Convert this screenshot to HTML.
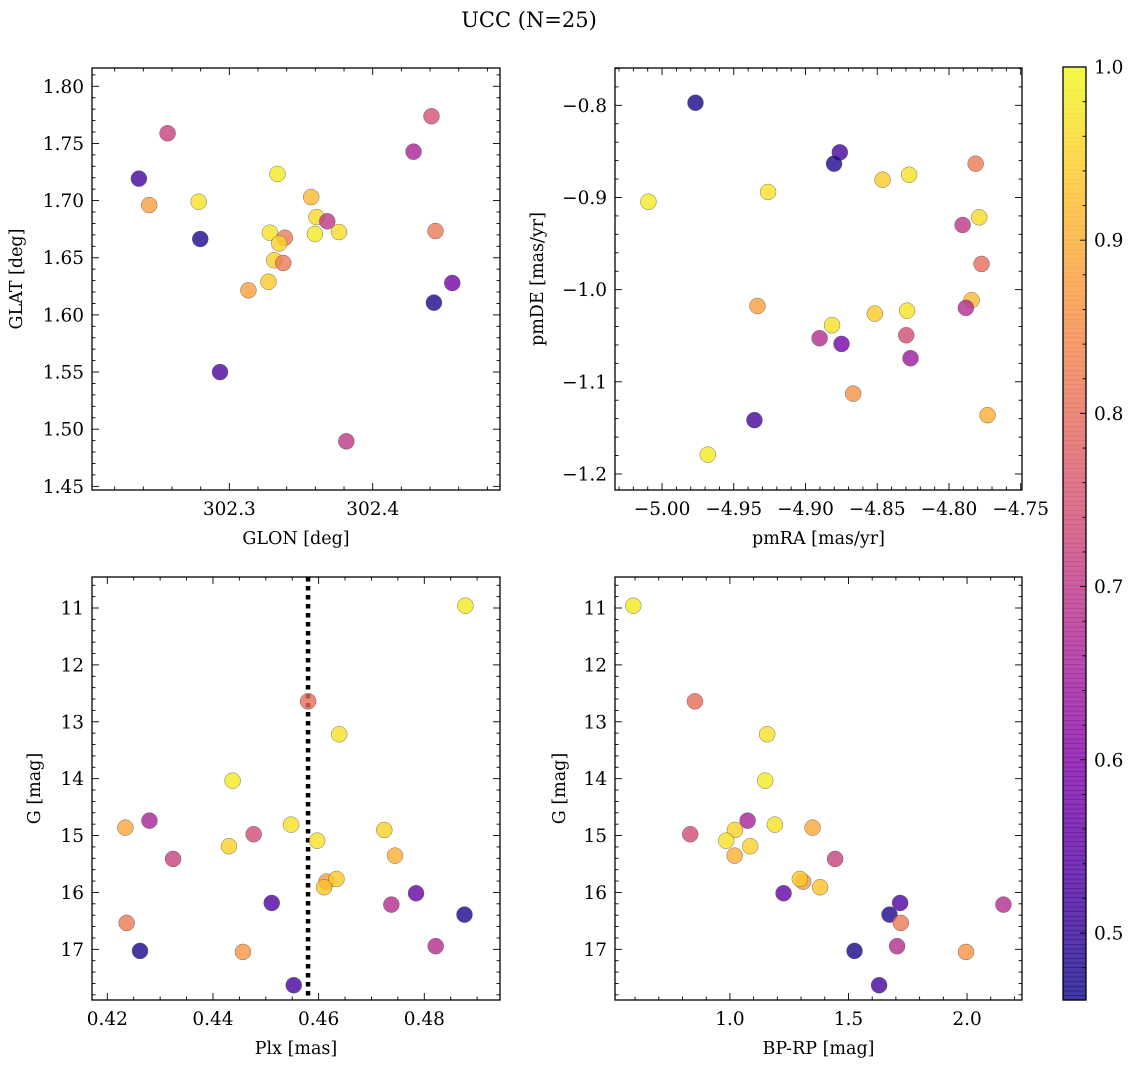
<!DOCTYPE html>
<html><head><meta charset="utf-8">
<style>
html,body{margin:0;padding:0;background:#fff;}
svg{display:block;font-family:"DejaVu Serif","Liberation Serif",serif;}
</style></head>
<body>
<svg id="fig" width="1136" height="1067" viewBox="0 0 1136 1067" xmlns="http://www.w3.org/2000/svg">
<text x="529" y="27" font-size="21" text-anchor="middle" fill="#000">UCC (N=25)</text>
</svg>
<script>
// ---- Panel 1: GLON vs GLAT ----
const glon = [302.2569,302.2369,302.2441,302.2786,302.2797,302.2935,302.3336,302.3571,302.3608,302.3683,302.3283,302.3387,302.3348,302.3597,302.3765,302.3313,302.3376,302.3273,302.3133,302.3816,302.4410,302.4285,302.4438,302.4555,302.4427];
const glat = [1.7589,1.7192,1.6961,1.6990,1.6664,1.5500,1.7233,1.7031,1.6856,1.6819,1.6719,1.6675,1.6626,1.6708,1.6725,1.6478,1.6454,1.6290,1.6215,1.4894,1.7738,1.7428,1.6734,1.6279,1.6107];
const probPos = [0.72,0.52,0.88,0.97,0.48,0.53,0.98,0.92,0.96,0.70,0.97,0.82,0.95,0.98,0.96,0.95,0.82,0.94,0.88,0.70,0.75,0.66,0.82,0.58,0.48];
// ---- Panel 2: pmRA vs pmDE ----
const pmra = [-4.9767,-4.8761,-4.8801,-4.7814,-4.8463,-4.8278,-4.9261,-5.0095,-4.7905,-4.7789,-4.7773,-4.9335,-4.7842,-4.7882,-4.8517,-4.8292,-4.8815,-4.8902,-4.8749,-4.8298,-4.8268,-4.8668,-4.7731,-4.9356,-4.9681];
const pmde = [-0.7972,-0.8510,-0.8633,-0.8633,-0.8807,-0.8753,-0.8940,-0.9046,-0.9298,-0.9215,-0.9721,-1.0177,-1.0115,-1.0198,-1.0260,-1.0228,-1.0386,-1.0527,-1.0589,-1.0495,-1.0744,-1.1128,-1.1362,-1.1416,-1.1790];
const probPm = [0.47,0.52,0.48,0.82,0.94,0.97,0.97,0.98,0.70,0.96,0.80,0.88,0.92,0.68,0.94,0.97,0.97,0.68,0.58,0.74,0.64,0.86,0.90,0.52,0.98];
// ---- Panels 3 & 4: Plx / BP-RP vs G ----
const plx = [0.48778,0.45801,0.46389,0.44372,0.42797,0.42342,0.45478,0.47243,0.44770,0.45972,0.44302,0.43245,0.47446,0.46148,0.46338,0.46104,0.45112,0.47844,0.47376,0.48761,0.42366,0.42619,0.44567,0.48216,0.45529];
const gmag = [10.960,12.640,13.220,14.035,14.738,14.861,14.808,14.902,14.977,15.090,15.188,15.411,15.353,15.810,15.763,15.909,16.185,16.014,16.214,16.390,16.536,17.028,17.046,16.945,17.631];
const bprp = [0.5925,0.8525,1.1572,1.1488,1.0746,1.3485,1.1896,1.0211,0.8327,0.9844,1.0855,1.4437,1.0198,1.3089,1.2950,1.3805,1.7177,1.2263,2.1534,1.6730,1.7206,1.5255,1.9958,1.7050,1.6292];
const probPhot = [0.98,0.80,0.97,0.98,0.66,0.89,0.97,0.95,0.74,0.97,0.95,0.72,0.90,0.87,0.94,0.93,0.53,0.56,0.68,0.48,0.82,0.47,0.86,0.68,0.52];
const plxMedian = [0.4580];
// ---- tick labels ----
const ticksGlon = [302.3,302.4];
const ticksGlat = [1.45,1.50,1.55,1.60,1.65,1.70,1.75,1.80];
const ticksPmra = [-5.00,-4.95,-4.90,-4.85,-4.80,-4.75];
const ticksPmde = [-1.2,-1.1,-1.0,-0.9,-0.8];
const ticksPlx = [0.42,0.44,0.46,0.48];
const ticksBprp = [1.0,1.5,2.0];
const ticksG = [11,12,13,14,15,16,17];
const ticksCbar = [0.5,0.6,0.7,0.8,0.9,1.0];

const NS = "http://www.w3.org/2000/svg";
const fig = document.getElementById('fig');
const VMIN = 0.4613, VMAX = 1.0;
const TFS = 18.5, LFS = 17.5;
const stops = [[13,8,135],[76,2,161],[126,3,168],[169,35,149],[204,71,120],[229,107,93],[248,149,64],[253,195,40],[240,249,33]];
function plasma(t){
  t = Math.max(0, Math.min(1, t));
  const f = t*(stops.length-1), i = Math.min(Math.floor(f), stops.length-2), u = f-i;
  const c = stops[i].map((v,k)=>Math.round(v+(stops[i+1][k]-v)*u));
  return 'rgb('+c.join(',')+')';
}
function cnorm(p){ return (p-VMIN)/(VMAX-VMIN); }
function mk(tag, attrs, parent){
  const e = document.createElementNS(NS, tag);
  for (const k in attrs) e.setAttribute(k, attrs[k]);
  (parent||fig).appendChild(e);
  return e;
}
function lin(d0,d1,p0,p1){ return v => p0 + (v-d0)/(d1-d0)*(p1-p0); }

function panel(o){
  const g = mk('g', {});
  
  
  const X = lin(o.xd[0], o.xd[1], o.L, o.R);
  const Y = o.invert ? lin(o.yd[0], o.yd[1], o.T, o.B) : lin(o.yd[0], o.yd[1], o.B, o.T);
  const tg = mk('g', {stroke:'#000','stroke-width':0.9}, g);
  const xmin = Math.min(o.xd[0],o.xd[1]), xmax = Math.max(o.xd[0],o.xd[1]);
  const ymin = Math.min(o.yd[0],o.yd[1]), ymax = Math.max(o.yd[0],o.yd[1]);
  for (let v = Math.ceil(xmin/o.xminor-1e-6)*o.xminor; v <= xmax+1e-9; v += o.xminor){
    const x = X(v);
    const isMaj = o.xt.some(t=>Math.abs(t-v)<o.xminor*0.1);
    const len = isMaj ? 7 : 3.5;
    mk('line',{x1:x,x2:x,y1:o.B,y2:o.B-len},tg);
    mk('line',{x1:x,x2:x,y1:o.T,y2:o.T+len},tg);
  }
  for (let v = Math.ceil(ymin/o.yminor-1e-6)*o.yminor; v <= ymax+1e-9; v += o.yminor){
    const y = Y(v);
    const isMaj = o.yt.some(t=>Math.abs(t-v)<o.yminor*0.1);
    const len = isMaj ? 7 : 3.5;
    mk('line',{x1:o.L,x2:o.L+len,y1:y,y2:y},tg);
    mk('line',{x1:o.R,x2:o.R-len,y1:y,y2:y},tg);
  }
  o.xt.forEach(v=>{
    const t = mk('text',{x:X(v), y:o.B+25, 'font-size':TFS, 'text-anchor':'middle'}, g);
    
    
    t.textContent = o.xfmt(v);
  });
  o.yt.forEach(v=>{
    const t = mk('text',{x:o.L-8, y:Y(v)+6.5, 'font-size':TFS, 'text-anchor':'end'}, g);
    
    
    t.textContent = o.yfmt(v);
  });
  const xl = mk('text',{x:(o.L+o.R)/2, y:o.B+54, 'font-size':LFS, 'text-anchor':'middle'}, g);
  
  
  xl.textContent = o.xlabel;
  const ycx = o.ylx, ycy = (o.T+o.B)/2;
  const yl = mk('text',{x:ycx, y:ycy, 'font-size':LFS, 'text-anchor':'middle', transform:'rotate(-90 '+ycx+' '+ycy+')'}, g);
  
  
  yl.textContent = o.ylabel;
  const cid = 'clip-'+o.name;
  const cp = mk('clipPath',{id:cid}, g);
  mk('rect',{x:o.L,y:o.T,width:o.R-o.L,height:o.B-o.T}, cp);
  const pg = mk('g',{'clip-path':'url(#'+cid+')'}, g);
  if (o.vline){
    o.vline.forEach(v=>{
      const l = mk('line',{x1:X(v),x2:X(v),y1:o.T,y2:o.B,stroke:'#000','stroke-width':4.5,'stroke-dasharray':'4.5 4.5'}, pg);
      
      
    });
  }
  for (let i=0;i<o.xs.length;i++){
    const c = mk('circle',{cx:X(o.xs[i]), cy:Y(o.ys[i]), r:8, fill:plasma(cnorm(o.ps[i])), 'fill-opacity':0.8, stroke:'#555', 'stroke-width':0.5, 'stroke-opacity':0.8}, pg);
    
    
  }
  mk('rect',{x:o.L,y:o.T,width:o.R-o.L,height:o.B-o.T,fill:'none',stroke:'#000','stroke-width':1.3}, g);
}

const f2 = v=>v.toFixed(2).replace('-','\u2212');
const f1 = v=>v.toFixed(1).replace('-','\u2212');
const f0 = v=>String(v);

panel({name:'glon-glat-panel', L:92, R:500, T:68, B:490,
  xd:[302.2042,302.4888], yd:[1.4468,1.8160], xs:glon, ys:glat, ps:probPos,
  xt:ticksGlon, yt:ticksGlat, xminor:0.02, yminor:0.01, xfmt:f1, yfmt:f2,
  xlabel:'GLON [deg]', ylabel:'GLAT [deg]', ylx:22});
panel({name:'pmra-pmde-panel', L:615, R:1022, T:68, B:490,
  xd:[-5.0328,-4.7491], yd:[-1.2174,-0.7595], xs:pmra, ys:pmde, ps:probPm,
  xt:ticksPmra, yt:ticksPmde, xminor:0.01, yminor:0.02, xfmt:f2, yfmt:f1,
  xlabel:'pmRA [mas/yr]', ylabel:'pmDE [mas/yr]', ylx:543});
panel({name:'plx-g-panel', L:92, R:500, T:577, B:1000, invert:true,
  xd:[0.41710,0.49433], yd:[10.455,17.891], xs:plx, ys:gmag, ps:probPhot,
  xt:ticksPlx, yt:ticksG, xminor:0.005, yminor:0.2, xfmt:f2, yfmt:f0,
  xlabel:'Plx [mas]', ylabel:'G [mag]', ylx:40, vline:plxMedian});
panel({name:'bprp-g-panel', L:615, R:1022, T:577, B:1000, invert:true,
  xd:[0.5154,2.2318], yd:[10.455,17.891], xs:bprp, ys:gmag, ps:probPhot,
  xt:ticksBprp, yt:ticksG, xminor:0.1, yminor:0.2, xfmt:f1, yfmt:f0,
  xlabel:'BP-RP [mag]', ylabel:'G [mag]', ylx:565});

(function(){
  const L=1063, R=1086, T=67, B=1000;
  const cb = mk('g',{});
  
  
  const Y = lin(VMIN, VMAX, B, T);
  const N = 200;
  for (let i=0;i<N;i++){
    const y0 = T + (B-T)*i/N, y1 = T + (B-T)*(i+1)/N;
    const v = VMAX - (VMAX-VMIN)*(i+0.5)/N;
    mk('rect',{x:L,y:y0,width:R-L,height:y1-y0+0.6,fill:plasma(cnorm(v)),'fill-opacity':0.8}, cb);
  }
  for (let v = 0.48; v <= 1.0001; v += 0.02){
    const y = Y(v);
    const isMaj = ticksCbar.some(t=>Math.abs(t-v)<0.002);
    mk('line',{x1:R,x2:R-(isMaj?6:3.5),y1:y,y2:y,stroke:'#000','stroke-width':0.9}, cb);
  }
  ticksCbar.forEach(v=>{
    const t = mk('text',{x:R+8, y:Y(v)+6.5, 'font-size':TFS}, cb);
    
    
    t.textContent = v.toFixed(1);
  });
  mk('rect',{x:L,y:T,width:R-L,height:B-T,fill:'none',stroke:'#000','stroke-width':1.3}, cb);
})();
</script>
</body></html>
